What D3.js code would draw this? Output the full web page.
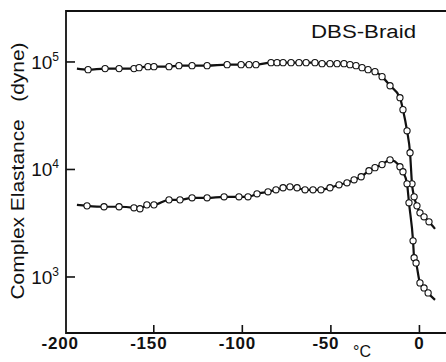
<!DOCTYPE html>
<html>
<head>
<meta charset="utf-8">
<script src="https://cdn.jsdelivr.net/npm/d3@7"></script>
<style>
  html, body { margin: 0; padding: 0; background: #fff; }
  svg { display: block; }
  text { font-family: "Liberation Sans", Arial, sans-serif; fill: #111; }
</style>
</head>
<body>
<div id="chart"></div>
<script>
// upper curve (storage part), measured points
const upperTemp = [-187.1, -177.5, -169.6, -161.2, -158.3, -153.3, -149.9, -141.4, -135.8, -128.4, -119.9,
  -108.6, -100.7, -96.2, -92.3, -83.8, -80.4, -77.0, -72.5, -68.0, -64.0, -59.0, -55.0, -50.5, -46.5,
  -42.6, -39.2, -35.8, -32.4, -29.0, -25.1, -21.1, -16.6, -11.0, -9.3, -7.0, -5.3, -4.2, -3.0, -1.4, 0.3, 2.6, 5.4];
const upperVal = [84800, 86700, 86700, 86700, 88500, 90400, 90400, 90400, 92400, 92400, 92400,
  94400, 94400, 94400, 94400, 98500, 98500, 98500, 98500, 98500, 98500, 98500, 96400, 96400, 96400,
  96400, 94400, 92400, 88500, 84800, 81300, 73000, 60100, 46500, 36000, 22900, 14300, 7360, 5570, 4590, 3950, 3630, 3260];
const upperEnds = [[-193.4, 86700], [8.8, 2800]];

// lower curve (loss part), measured points
const lowerTemp = [-187.7, -178.1, -169.6, -161.2, -157.8, -153.9, -149.9, -141.4, -135.2, -128.4, -119.9,
  -110.3, -101.9, -96.8, -91.7, -85.5, -81.0, -77.0, -73.1, -69.1, -64.6, -60.1, -55.6, -50.5, -45.4,
  -40.9, -36.9, -32.9, -28.5, -25.1, -21.1, -16.6, -11.0, -9.3, -7.0, -5.9, -3.6, -3.0, -1.9, 0.3, 2.6, 4.9];
const lowerVal = [4590, 4500, 4500, 4400, 4310, 4690, 4690, 5220, 5220, 5450, 5450,
  5570, 5570, 5570, 5940, 6200, 6470, 6760, 6900, 6760, 6470, 6470, 6470, 6760, 7200,
  7520, 8020, 8560, 9730, 10400, 11100, 12300, 10600, 9520, 7360, 4900, 2170, 1510, 1350, 881, 791, 711];
const lowerEnds = [[-193.4, 4690], [8.8, 612]];

const xTicks = [-200, -150, -100, -50, 0];
const yTicks = [1e3, 1e4, 1e5];
const yExp = ['3', '4', '5'];

const width = 446, height = 362;
const plotLeft = 66, plotTop = 11, plotBottom = 333;

const svg = d3.select('#chart').append('svg')
  .attr('width', width).attr('height', height);

const x = d3.scaleLinear().domain([-199, 15]).range([plotLeft + 1, width]);
const y = d3.scaleLog().domain([Math.pow(10, 2.479), Math.pow(10, 5.474)]).range([plotBottom, plotTop]);

// frame: top, left, bottom (open on the right)
svg.append('path')
  .attr('d', `M${width},${plotTop}H${plotLeft}V${plotBottom}H${width}`)
  .attr('fill', 'none').attr('stroke', '#111').attr('stroke-width', 1.8);

// x ticks, pointing up into the plot
svg.append('g').selectAll('line')
  .data(xTicks.filter(d => d > -200))
  .join('line')
  .attr('x1', d => x(d)).attr('x2', d => x(d))
  .attr('y1', plotBottom).attr('y2', plotBottom - 8)
  .attr('stroke', '#111').attr('stroke-width', 1.6);

svg.append('g').selectAll('text')
  .data(xTicks)
  .join('text')
  .attr('x', d => x(d) - (d < 0 ? 5 : 0))
  .attr('y', 349)
  .attr('text-anchor', 'middle')
  .attr('font-size', 17)
  .attr('font-weight', 'bold')
  .attr('letter-spacing', 0.8)
  .text(d => d < 0 ? '-' + Math.abs(d) : d);

svg.append('text')
  .attr('x', 353).attr('y', 357)
  .attr('font-size', 16)
  .text('°C');

// y ticks, pointing right into the plot
svg.append('g').selectAll('line')
  .data(yTicks)
  .join('line')
  .attr('x1', plotLeft).attr('x2', plotLeft + 9)
  .attr('y1', d => y(d)).attr('y2', d => y(d))
  .attr('stroke', '#111').attr('stroke-width', 1.6);

const yLab = svg.append('g').selectAll('text')
  .data(yTicks)
  .join('text')
  .attr('x', 59)
  .attr('y', d => y(d) + 7)
  .attr('text-anchor', 'end')
  .attr('font-size', 19);
yLab.append('tspan').text('10');
yLab.append('tspan')
  .attr('font-size', 12)
  .attr('dy', -8)
  .text((d, i) => yExp[i]);

svg.append('text')
  .attr('transform', 'translate(24,171) rotate(-90)')
  .attr('text-anchor', 'middle')
  .attr('font-size', 18)
  .style('white-space', 'pre')
  .attr('textLength', 257)
  .attr('lengthAdjust', 'spacingAndGlyphs')
  .text('Complex Elastance   (dyne)');

svg.append('text')
  .attr('x', 311).attr('y', 38)
  .attr('font-size', 18)
  .attr('textLength', 105)
  .attr('lengthAdjust', 'spacingAndGlyphs')
  .text('DBS-Braid');

// curves
const line = d3.line()
  .x(d => x(d[0]))
  .y(d => y(d[1]))
  .curve(d3.curveMonotoneX);

function drawSeries(temps, vals, ends) {
  const pts = temps.map((t, i) => [t, vals[i]]);
  const full = [ends[0], ...pts, ends[1]];
  svg.append('path')
    .datum(full)
    .attr('d', line)
    .attr('fill', 'none')
    .attr('stroke', '#111')
    .attr('stroke-width', 2.2);
  svg.append('g').selectAll('circle')
    .data(pts)
    .join('circle')
    .attr('cx', d => x(d[0]))
    .attr('cy', d => y(d[1]))
    .attr('r', 3.1)
    .attr('fill', '#fff')
    .attr('stroke', '#111')
    .attr('stroke-width', 1.1);
}

drawSeries(upperTemp, upperVal, upperEnds);
drawSeries(lowerTemp, lowerVal, lowerEnds);
</script>
</body>
</html>
